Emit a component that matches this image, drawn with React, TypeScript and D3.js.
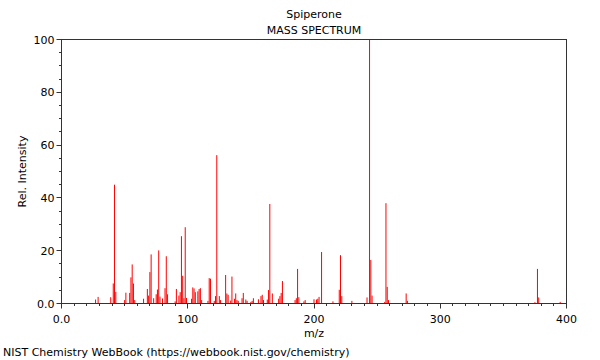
import React from "react";
import * as d3 from "d3";

const mzValues = [
  27, 29, 39, 41, 42, 43, 50, 51, 54, 55, 56, 57, 58, 65, 68, 69, 70, 71, 73, 75,
  76, 77, 78, 80, 82, 83, 84, 90, 91, 93, 94, 95, 96, 97, 98, 99, 103, 104, 105, 106,
  108, 109, 110, 111, 116, 117, 118, 121, 122, 123, 125, 126, 130, 131, 132, 134, 135, 137, 138, 139,
  140, 143, 144, 146, 147, 150, 151, 152, 156, 158, 159, 160, 163, 164, 165, 167, 172, 173, 174, 175,
  185, 186, 187, 188, 192, 193, 200, 202, 203, 204, 206, 215, 220, 221, 222, 230, 242, 244, 245, 246,
  256, 257, 258, 259, 273, 274, 375, 377, 378, 395,
];
const intensities = [
  1.5, 2.5, 2.4, 7.6, 45, 4.4, 1.3, 4.1, 4.0, 9.9, 14.8, 7.6, 1.3, 1.8, 5.5, 3.0, 11.9, 18.6, 2.0, 3.5,
  5.3, 20.1, 2.6, 1.9, 5.8, 17.9, 3.5, 0.8, 5.5, 3.0, 4.3, 25.5, 10.5, 2.0, 28.9, 2.1, 1.8, 6.1, 5.7, 4.3,
  4.6, 5.5, 5.8, 1.3, 1.0, 9.6, 9.4, 1.0, 2.8, 56.2, 2.8, 1.3, 10.8, 3.8, 3.3, 1.1, 10.2, 1.8, 3.8, 1.3,
  1.0, 2.0, 4.0, 1.5, 1.0, 0.6, 1.0, 2.0, 1.6, 2.8, 3.3, 1.3, 1.5, 5.1, 37.7, 3.8, 1.8, 2.8, 4.0, 8.5,
  1.3, 2.0, 13.1, 2.4, 0.8, 1.3, 1.6, 1.5, 1.8, 2.5, 19.5, 0.8, 5.2, 18.3, 2.8, 1.0, 2.3, 100, 16.5, 3.0,
  0.6, 38, 6.3, 1.3, 3.8, 1.0, 0.5, 13.1, 2.3, 0.6,
];
const xTickLabels = ["0.0", "100", "200", "300", "400"];
const yTickLabels = ["0.0", "20", "40", "60", "80", "100"];
const title = "Spiperone";
const subtitle = "MASS SPECTRUM";
const xLabel = "m/z";
const yLabel = "Rel. Intensity";
const footer = "NIST Chemistry WebBook (https://webbook.nist.gov/chemistry)";

export default function App() {
  const W = 600, H = 360;
  const left = 61.5, right = 566.5, top = 39.5, bottom = 303.5;
  const x = d3.scaleLinear().domain([0, 400]).range([left, right]);
  const y = d3.scaleLinear().domain([0, 100]).range([bottom, top]);
  const font = "'DejaVu Sans', sans-serif";
  const axisColor = "#333";
  const xMinor = d3.range(0, 401, 10);
  const yMinor = d3.range(0, 101, 5);
  const xMajor = [0, 100, 200, 300, 400];
  const yMajor = [0, 20, 40, 60, 80, 100];
  const cx = (left + right) / 2;
  const snap = (v: number) => Math.floor(v) + 0.5;

  return (
    <svg width={W} height={H} style={{ position: "absolute", left: 0, top: 0, background: "#fff" }} fontFamily={font}>
      <rect x={0} y={0} width={W} height={H} fill="#fff" />
      <text x={cx} y={18} fontSize={11} textAnchor="middle" fill="#000">{title}</text>
      <text x={cx} y={34} fontSize={11} textAnchor="middle" fill="#000">{subtitle}</text>
      {mzValues.map((m, i) => (
        <line key={"p" + i} x1={x(m)} x2={x(m)} y1={y(0)} y2={y(intensities[i])} stroke="#ff0000" strokeWidth={1} />
      ))}
      <rect x={left} y={top} width={right - left} height={bottom - top} fill="none" stroke={axisColor} strokeWidth={1} />
      {xMinor.map((v) => (
        <line key={"xt" + v} x1={snap(x(v))} x2={snap(x(v))} y1={bottom} y2={bottom + (v % 100 === 0 ? 5 : 2.5)} stroke={axisColor} strokeWidth={1} />
      ))}
      {yMinor.map((v) => (
        <line key={"yt" + v} x1={left - (v % 20 === 0 ? 5 : 2.5)} x2={left} y1={snap(y(v))} y2={snap(y(v))} stroke={axisColor} strokeWidth={1} />
      ))}
      {xMajor.map((v, i) => (
        <text key={"xl" + v} x={x(v)} y={323} fontSize={11} textAnchor="middle" fill="#000">{xTickLabels[i]}</text>
      ))}
      {yMajor.map((v, i) => (
        <text key={"yl" + v} x={left - 7} y={y(v) + 4} fontSize={11} textAnchor="end" fill="#000">{yTickLabels[i]}</text>
      ))}
      <text x={cx} y={337} fontSize={11} textAnchor="middle" fill="#000">{xLabel}</text>
      <text transform={`translate(26,${(top + bottom) / 2}) rotate(-90)`} fontSize={11} textAnchor="middle" fill="#000">{yLabel}</text>
      <text x={3} y={356} fontSize={11} fill="#000">{footer}</text>
    </svg>
  );
}
